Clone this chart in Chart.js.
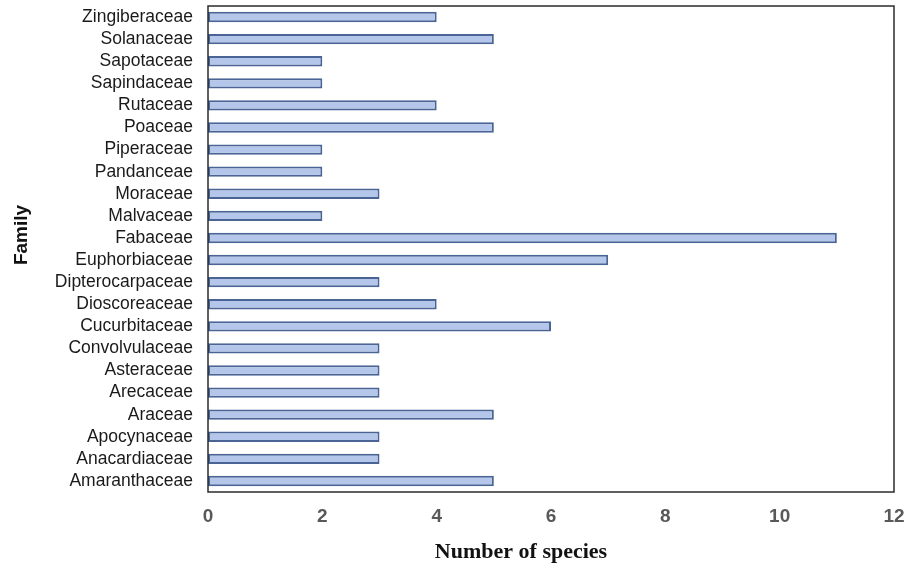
<!DOCTYPE html>
<html>
<head>
<meta charset="utf-8">
<script src="https://cdn.jsdelivr.net/npm/chart.js@4"></script>
<style>
  html, body { margin: 0; padding: 0; background: #fff; }
  #wrap { width: 917px; height: 568px; }
</style>
</head>
<body>
<div id="wrap"><canvas id="grafico"></canvas></div>
<script>
// datos, de arriba hacia abajo
const familias = [
    "Zingiberaceae", "Solanaceae", "Sapotaceae", "Sapindaceae", "Rutaceae",
    "Poaceae", "Piperaceae", "Pandanceae", "Moraceae", "Malvaceae",
    "Fabaceae", "Euphorbiaceae", "Dipterocarpaceae", "Dioscoreaceae",
    "Cucurbitaceae", "Convolvulaceae", "Asteraceae", "Arecaceae", "Araceae",
    "Apocynaceae", "Anacardiaceae", "Amaranthaceae"
];
const especies = [4, 5, 2, 2, 4, 5, 2, 2, 3, 2, 11, 7, 3, 4, 6, 3, 3, 3, 5, 3, 3, 5];
const ticksX = [0, 2, 4, 6, 8, 10, 12];
const tituloX = "Number of species";
const tituloY = "Family";

// marco alrededor del area del grafico y titulos de los ejes
const marco = {
    id: 'marco',
    afterDraw(chart) {
        const a = chart.chartArea;
        const ctx = chart.ctx;
        ctx.save();
        ctx.strokeStyle = '#2b2b2b';
        ctx.lineWidth = 1.5;
        ctx.strokeRect(a.left, a.top, a.right - a.left, a.bottom - a.top);

        ctx.fillStyle = '#111';
        ctx.textAlign = 'center';
        ctx.textBaseline = 'middle';
        ctx.font = 'bold 22px "Liberation Serif", "Times New Roman", serif';
        ctx.fillText(tituloX, 521, 552);

        ctx.translate(22, 235);
        ctx.rotate(-Math.PI / 2);
        ctx.font = 'bold 19px Arial, "Liberation Sans", sans-serif';
        ctx.fillText(tituloY, 0, 0);
        ctx.restore();
    }
};

const ctx = document.getElementById('grafico').getContext('2d');
new Chart(ctx, {
    type: 'bar',
    data: {
        labels: familias,
        datasets: [{
            data: especies,
            backgroundColor: '#b4c6ea',
            borderColor: '#4a6496',
            borderWidth: 2,
            borderSkipped: false,
            barPercentage: 0.47,
            categoryPercentage: 1
        }]
    },
    plugins: [marco],
    options: {
        indexAxis: 'y',
        responsive: true,
        maintainAspectRatio: false,
        animation: false,
        layout: { padding: { top: 6, right: 23, left: 0, bottom: 0 } },
        plugins: {
            legend: { display: false },
            tooltip: { enabled: false }
        },
        scales: {
            x: {
                min: 0,
                max: 12,
                afterBuildTicks(scale) {
                    scale.ticks = ticksX.map(v => ({ value: v }));
                },
                afterFit(scale) {
                    scale.height = 76;
                    scale.paddingLeft = 0;
                    scale.paddingRight = 0;
                },
                grid: { display: false, drawTicks: false },
                border: { display: false },
                ticks: {
                    padding: 13,
                    color: '#595959',
                    font: { family: 'Arial, "Liberation Sans"', size: 19, weight: 'bold' }
                }
            },
            y: {
                afterFit(scale) {
                    scale.width = 208;
                    scale.paddingTop = 0;
                    scale.paddingBottom = 0;
                },
                grid: { display: false, drawTicks: false },
                border: { display: false },
                ticks: {
                    padding: 15,
                    color: '#1a1a1a',
                    autoSkip: false,
                    font: { family: 'Arial, "Liberation Sans"', size: 17.5 }
                }
            }
        }
    }
});
</script>
</body>
</html>
